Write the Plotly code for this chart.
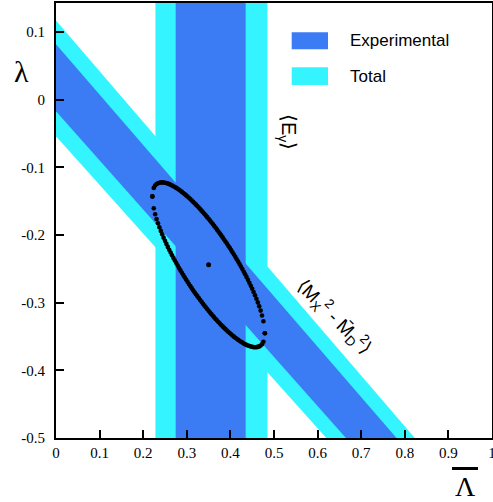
import numpy as np
import plotly.graph_objects as go

# ---- data ----
X_RANGE = [0.0, 1.0]
Y_RANGE = [-0.5, 0.143]

x_tick_vals = [0, 0.1, 0.2, 0.3, 0.4, 0.5, 0.6, 0.7, 0.8, 0.9, 1.0]
x_tick_text = ["0", "0.1", "0.2", "0.3", "0.4", "0.5", "0.6", "0.7", "0.8", "0.9", "1"]
y_tick_vals = [-0.5, -0.4, -0.3, -0.2, -0.1, 0.0, 0.1]
y_tick_text = ["-0.5", "-0.4", "-0.3", "-0.2", "-0.1", "0", "0.1"]

# vertical band from <E_gamma> (Lambda-bar limits)
egamma_total = [0.228, 0.485]
egamma_exp = [0.2745, 0.435]

# diagonal band from <Mx^2 - MD^2>: lambda at Lambda-bar = 0 (lower, upper)
# and Lambda-bar at lambda = -0.5 (lower, upper)
mx_total_at_lb0 = [-0.054, 0.117]
mx_total_at_lmin = [0.620, 0.823]
mx_exp_at_lb0 = [-0.017, 0.082]
mx_exp_at_lmin = [0.665, 0.781]

# combined fit ellipse
ellipse_center = [0.350, -0.244]
ellipse_half_extent = [0.129, 0.1218]
ellipse_corr = -0.83

CYAN = "#33f4ff"
BLUE = "#3b7bf4"

fig = go.Figure()


def vband(lims, color):
    xs = [lims[0], lims[1], lims[1], lims[0]]
    ys = [Y_RANGE[0], Y_RANGE[0], Y_RANGE[1], Y_RANGE[1]]
    return go.Scatter(x=xs, y=ys, fill="toself", fillcolor=color, mode="none",
                      hoverinfo="skip", showlegend=False)


def dband(at0, atmin, color):
    xs = [0.0, atmin[1], atmin[0], 0.0]
    ys = [at0[1], Y_RANGE[0], Y_RANGE[0], at0[0]]
    return go.Scatter(x=xs, y=ys, fill="toself", fillcolor=color, mode="none",
                      hoverinfo="skip", showlegend=False)


fig.add_trace(dband(mx_total_at_lb0, mx_total_at_lmin, CYAN))
fig.add_trace(vband(egamma_total, CYAN))
fig.add_trace(dband(mx_exp_at_lb0, mx_exp_at_lmin, BLUE))
fig.add_trace(vband(egamma_exp, BLUE))

# ellipse, sampled uniformly along Lambda-bar (like the dotted original)
u = np.linspace(-1, 1, 81)
r = ellipse_corr
root = np.sqrt(np.clip((1 - r**2) * (1 - u**2), 0, None))
v_up = r * u + root
v_dn = r * u - root
ex = np.concatenate([u, u]) * ellipse_half_extent[0] + ellipse_center[0]
ey = np.concatenate([v_up, v_dn]) * ellipse_half_extent[1] + ellipse_center[1]
fig.add_trace(go.Scatter(x=ex, y=ey, mode="markers",
                         marker=dict(color="black", size=4.6, line=dict(width=0)),
                         hoverinfo="skip", showlegend=False))
fig.add_trace(go.Scatter(x=[ellipse_center[0]], y=[ellipse_center[1]], mode="markers",
                         marker=dict(color="black", size=5, line=dict(width=0)),
                         hoverinfo="skip", showlegend=False))

SERIF = "'Liberation Serif', 'DejaVu Serif', serif"
SANS = "'Liberation Sans', Arial, sans-serif"

axis_common = dict(showgrid=False, zeroline=False, showline=True, linecolor="black",
                   linewidth=2, mirror=True, ticks="inside", ticklen=8, tickwidth=2,
                   tickcolor="black", automargin=False, ticklabeloverflow="allow",
                   tickfont=dict(family=SERIF, size=15, color="black"))

fig.update_layout(
    width=493, height=502,
    margin=dict(l=56, r=1, t=3, b=64, autoexpand=False),
    plot_bgcolor="white", paper_bgcolor="white",
    font=dict(family=SERIF, color="black"),
    xaxis=dict(range=X_RANGE, tickvals=x_tick_vals, ticktext=x_tick_text, **axis_common),
    yaxis=dict(range=Y_RANGE, tickvals=y_tick_vals, ticktext=y_tick_text,
               ticklabelstandoff=6, **axis_common),
    showlegend=False,
)

# manual legend (swatch + label)
legend_items = [("Experimental", BLUE, 32.3, 49.3), ("Total", CYAN, 67.3, 85.0)]
H = 502.0
for label, color, top, bot in legend_items:
    fig.add_shape(type="rect", xref="paper", yref="paper",
                  x0=(291.7 - 56) / 436, x1=(328 - 56) / 436,
                  y0=(H - 64 - bot) / 435, y1=(H - 64 - top) / 435,
                  fillcolor=color, line=dict(width=0))
    fig.add_annotation(xref="paper", yref="paper", x=(348 - 56) / 436,
                       y=(H - 64 - (top + bot) / 2) / 435, xanchor="left", yanchor="middle",
                       text=label, showarrow=False,
                       font=dict(family=SANS, size=17, color="black"))

# band labels
fig.add_annotation(x=0.531, y=-0.047, text="⟨E<sub>γ</sub>⟩", textangle=90,
                   showarrow=False, font=dict(family=SANS, size=20, color="black"))
fig.add_annotation(x=0.637, y=-0.321,
                   text="⟨M<sub>X</sub><sup>2</sup> - M\u0304<sub>D</sub><sup>2</sup>⟩",
                   textangle=45, showarrow=False,
                   font=dict(family=SANS, size=19, color="black"))

# axis titles
fig.add_annotation(xref="paper", yref="paper", x=(21 - 56) / 436, y=(H - 64 - 71) / 435,
                   text="λ", showarrow=False, xanchor="center", yanchor="middle",
                   font=dict(family=SERIF, size=30, color="black"))
fig.add_annotation(xref="paper", yref="paper", x=(465 - 56) / 436, y=(H - 64 - 486.5) / 435,
                   text="Λ", showarrow=False, xanchor="center", yanchor="middle",
                   font=dict(family=SERIF, size=28, color="black"))
fig.add_shape(type="line", xref="paper", yref="paper",
              x0=(452 - 56) / 436, x1=(478 - 56) / 436,
              y0=(H - 64 - 468.5) / 435, y1=(H - 64 - 468.5) / 435,
              line=dict(color="black", width=3))

fig.write_html(
    "out.html",
    config={"displayModeBar": False},
    post_script="document.body.style.margin='0';document.body.style.overflow='hidden';",
)
